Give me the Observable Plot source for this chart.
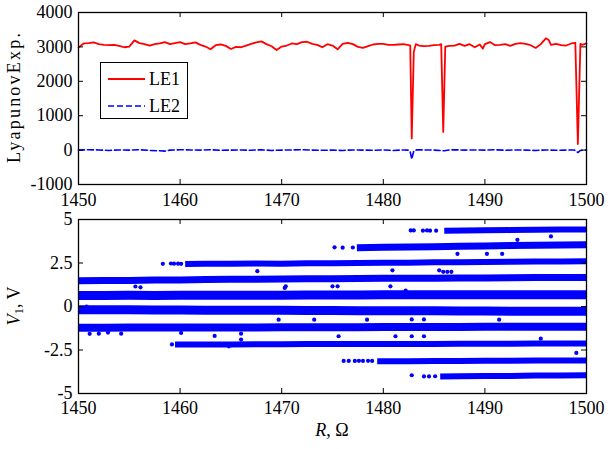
<!DOCTYPE html>
<html><head><meta charset="utf-8">
<script src="https://cdn.jsdelivr.net/npm/d3@7"></script>
<script src="https://cdn.jsdelivr.net/npm/@observablehq/plot@0.6"></script>
<style>
body{margin:0;background:#fff;}
svg{display:block}
#chart svg, #chart svg text { font-family: "Liberation Serif", "DejaVu Serif", serif !important; }
</style>
</head><body><div id="chart"></div>
<script>
// ---------- data ----------
const xTicks = [1450, 1460, 1470, 1480, 1490, 1500];
const yTicksTop = [-1000, 0, 1000, 2000, 3000, 4000];
const yTicksBottom = [-5, -2.5, 0, 2.5, 5];

// Lyapunov exponents [R, value]
const le1 = [
 [1450,2980],[1450.5,3100],[1451,3110],[1451.5,3130],[1452,3080],[1452.5,3060],[1453,3050],[1453.5,3060],
 [1454,3030],[1454.5,2990],[1455,3010],[1455.5,3190],[1456,3110],[1456.5,3080],[1457,3040],[1457.5,3080],
 [1458,3100],[1458.5,3140],[1459,3080],[1459.5,3110],[1460,3140],[1460.5,3080],[1461,3100],[1461.5,3130],
 [1462,3060],[1462.5,3010],[1463,2930],[1463.5,3050],[1464,3070],[1464.5,3030],[1465,2940],[1465.5,3000],
 [1466,2990],[1466.5,3040],[1467,3090],[1467.5,3130],[1468,3160],[1468.5,3080],[1469,3020],[1469.5,2910],
 [1470,3010],[1470.5,3040],[1471,3100],[1471.5,3080],[1472,3140],[1472.5,3150],[1473,3090],[1473.5,3060],
 [1474,2990],[1474.5,3080],[1475,3040],[1475.5,2930],[1476,3090],[1476.5,3120],[1477,3080],[1477.5,3000],
 [1478,2970],[1478.5,3020],[1479,3070],[1479.5,3090],[1480,3090],[1480.5,3060],[1481,3060],[1481.5,3070],
 [1482,3080],[1482.5,3050],[1482.65,3040],[1482.8,340],[1483,2850],[1483.2,3080],[1483.5,3040],[1484,3020],
 [1484.5,3030],[1485,3050],[1485.5,3060],[1485.7,3080],[1485.9,530],[1486.1,3010],[1486.5,3030],[1487,3040],
 [1487.5,3090],[1488,3030],[1488.5,3080],[1489,2990],[1489.5,3070],[1489.8,2950],[1490,3080],[1490.5,3140],
 [1491,3050],[1491.5,3060],[1492,3080],[1492.5,3030],[1493,3090],[1493.5,3110],[1494,3090],[1494.5,3050],
 [1495,2970],[1495.5,3080],[1496,3250],[1496.3,3190],[1496.5,3060],[1497,3090],[1497.5,3050],[1498,3040],
 [1498.5,3100],[1498.9,3120],[1499.15,175],[1499.4,3090],[1499.6,3060],[1500,3100]
];
const le2 = [
 [1450,0],[1451,10],[1452,5],[1453,-10],[1454,5],[1455,0],[1456,10],[1457,-10],[1458,-20],[1458.5,-30],
 [1459,0],[1460,10],[1461,5],[1462,0],[1463,10],[1464,-5],[1465,0],[1466,5],[1467,-5],[1468,10],[1469,-10],
 [1470,0],[1471,5],[1472,10],[1473,0],[1474,-5],[1475,0],[1476,-10],[1477,5],[1478,0],[1479,-5],[1480,5],
 [1481,-10],[1482,5],[1482.5,0],[1482.65,-50],[1482.8,-260],[1483,-30],[1483.3,10],[1484,5],[1485,0],
 [1486,-20],[1486.5,5],[1487,10],[1488,0],[1489,5],[1490,0],[1491,10],[1492,-5],[1493,5],[1494,0],
 [1495,-10],[1496,5],[1497,-5],[1498,0],[1498.8,5],[1499.15,-70],[1499.4,-10],[1500,5]
];

// Bifurcation bands: band centre [R, V1]
const bandA = [[1460.5,2.44],[1462.5,2.46],[1465,2.45],[1467.5,2.47],[1470,2.46],[1472.5,2.48],[1475,2.49],[1477.5,2.50],[1480,2.51],[1482.5,2.52],[1485,2.54],[1487.5,2.55],[1490,2.56],[1492.5,2.57],[1495,2.58],[1497.5,2.59],[1500,2.60]];
const bandB = [[1450,1.48],[1452.5,1.49],[1455,1.50],[1457.5,1.52],[1460,1.53],[1462.5,1.55],[1465,1.56],[1467.5,1.57],[1470,1.58],[1472.5,1.59],[1475,1.60],[1477.5,1.61],[1480,1.62],[1482.5,1.62],[1485,1.63],[1487.5,1.64],[1490,1.64],[1492.5,1.65],[1495,1.66],[1497.5,1.66],[1500,1.67]];
const bandC = [[1450,0.63],[1452.5,0.63],[1455,0.64],[1457.5,0.63],[1460,0.64],[1462.5,0.64],[1465,0.65],[1467.5,0.65],[1470,0.65],[1472.5,0.66],[1475,0.66],[1477.5,0.66],[1480,0.67],[1482.5,0.67],[1485,0.67],[1487.5,0.67],[1490,0.68],[1492.5,0.68],[1495,0.68],[1497.5,0.68],[1500,0.68]];
const bandD = [[1450,-0.18],[1452.5,-0.19],[1455,-0.19],[1457.5,-0.20],[1460,-0.20],[1462.5,-0.21],[1465,-0.21],[1467.5,-0.22],[1470,-0.22],[1472.5,-0.23],[1475,-0.23],[1477.5,-0.24],[1480,-0.24],[1482.5,-0.25],[1485,-0.25],[1487.5,-0.26],[1490,-0.26],[1492.5,-0.27],[1495,-0.27],[1497.5,-0.28],[1500,-0.28]];
const bandE = [[1450,-1.22],[1452.5,-1.22],[1455,-1.21],[1457.5,-1.21],[1460,-1.21],[1462.5,-1.20],[1465,-1.20],[1467.5,-1.20],[1470,-1.19],[1472.5,-1.19],[1475,-1.19],[1477.5,-1.19],[1480,-1.18],[1482.5,-1.18],[1485,-1.18],[1487.5,-1.18],[1490,-1.17],[1492.5,-1.17],[1495,-1.17],[1497.5,-1.17],[1500,-1.17]];
const bandF = [[1459.5,-2.18],[1462.5,-2.18],[1465,-2.18],[1467.5,-2.17],[1470,-2.17],[1472.5,-2.16],[1475,-2.16],[1477.5,-2.16],[1480,-2.15],[1482.5,-2.15],[1485,-2.15],[1487.5,-2.14],[1490,-2.14],[1492.5,-2.14],[1495,-2.13],[1497.5,-2.13],[1500,-2.13]];
const bandG = [[1477.4,3.38],[1480,3.40],[1482.5,3.42],[1485,3.44],[1487.5,3.46],[1490,3.48],[1492.5,3.50],[1495,3.52],[1497.5,3.54],[1500,3.55]];
const bandH = [[1486,4.36],[1488,4.37],[1490,4.38],[1492.5,4.39],[1495,4.41],[1497.5,4.42],[1500,4.43]];
const bandI = [[1479.4,-3.14],[1482.5,-3.14],[1485,-3.13],[1487.5,-3.13],[1490,-3.12],[1492.5,-3.12],[1495,-3.11],[1497.5,-3.11],[1500,-3.10]];
const bandJ = [[1485.6,-4.02],[1487.5,-4.01],[1490,-4.00],[1492.5,-3.99],[1495,-3.97],[1497.5,-3.96],[1500,-3.95]];

// isolated points [R, V1]
const scatterDots = [
 [1458.3,2.45],[1459.1,2.47],[1459.4,2.46],[1459.8,2.46],[1460.1,2.45],
 [1459.2,-2.18],
 [1475.2,3.40],[1476.0,3.38],[1477.0,3.39],
 [1482.7,4.37],[1483.0,4.37],[1483.9,4.36],[1484.3,4.37],[1484.6,4.36],[1485.2,4.36],
 [1476.1,-3.13],[1476.6,-3.13],[1477.2,-3.13],[1477.6,-3.12],[1478.0,-3.13],[1478.5,-3.12],[1478.9,-3.13],
 [1482.8,-3.95],[1484.0,-4.02],[1484.5,-4.02],[1485.1,-4.01],
 [1455.6,1.15],[1456.1,1.10],[1451.1,-1.57],[1452.0,-1.56],[1452.9,-1.50],[1454.2,-1.56],
 [1463.4,-1.69],[1466.0,-1.90],[1466.0,-1.56],[1469.7,-0.76],[1467.6,2.03],[1470.4,1.16],[1470.3,1.07],
 [1460.1,-1.52],[1450.8,0.0],[1464.8,-2.29],
 [1480.9,2.08],[1485.5,2.08],[1485.9,1.99],[1486.3,1.99],[1486.7,1.99],[1487.3,3.03],[1490.2,3.03],
 [1491.7,3.03],[1496.5,4.03],[1493.2,3.83],[1475.0,1.16],[1475.5,1.16],[1480.7,1.16],[1482.2,0.92],
 [1473.2,-0.76],[1478.4,-0.76],[1482.8,-0.74],[1484.0,-0.74],[1491.4,-0.76],[1475.6,-1.71],[1481.2,-1.71],
 [1482.8,-1.71],[1484.0,-1.71],[1495.5,-1.85],[1499.0,-2.67]
];

// ---------- layout ----------
const W = 608, ML = 78, MR = 22;
const FW = W - ML - MR;
const TICK = 5;
const font = "Liberation Serif, DejaVu Serif, serif";
const style = {fontFamily: font, fontSize: "18px", background: "white", color: "black", overflow: "visible"};
const BLUE = "#0000ff", RED = "#ff0000";

function frameTicks(xt, yt, FH) {
  return [
    Plot.ruleX(xt, {x: d => d, insetTop: FH - TICK, stroke: "black", strokeWidth: 1}),
    Plot.ruleX(xt, {x: d => d, insetBottom: FH - TICK, stroke: "black", strokeWidth: 1}),
    Plot.ruleY(yt, {y: d => d, insetRight: FW - TICK, stroke: "black", strokeWidth: 1}),
    Plot.ruleY(yt, {y: d => d, insetLeft: FW - TICK, stroke: "black", strokeWidth: 1}),
    Plot.frame({stroke: "black", strokeWidth: 1.3})
  ];
}

// top panel
const HT = 212, MTt = 12, MBt = 28;
const topPlot = Plot.plot({
  width: W, height: HT, marginTop: MTt, marginBottom: MBt, marginLeft: ML, marginRight: MR,
  style,
  x: {domain: [1450, 1500], label: null},
  y: {domain: [-1000, 4000], label: null},
  marks: [
    Plot.line(le2, {x: d => d[0], y: d => d[1], stroke: BLUE, strokeWidth: 1.6, strokeDasharray: "6,3"}),
    Plot.line(le1, {x: d => d[0], y: d => d[1], stroke: RED, strokeWidth: 1.8}),
    Plot.axisX({ticks: xTicks, tickSize: 0, tickPadding: 9, tickFormat: d => String(d), fontSize: 18}),
    Plot.axisY({ticks: yTicksTop, tickSize: 0, tickPadding: 6, tickFormat: d => String(d), fontSize: 18}),
    ...frameTicks(xTicks, yTicksTop, HT - MTt - MBt)
  ]
});

// bottom panel
const HB = 237, MTb = 7, MBb = 56;
const bands = [
  [bandA, 6], [bandB, 7], [bandC, 9], [bandD, 9], [bandE, 8],
  [bandF, 6], [bandG, 7], [bandH, 6], [bandI, 6], [bandJ, 6]
];
const bottomPlot = Plot.plot({
  width: W, height: HB, marginTop: MTb, marginBottom: MBb, marginLeft: ML, marginRight: MR,
  style,
  x: {domain: [1450, 1500], label: null},
  y: {domain: [-5, 5], label: null},
  marks: [
    ...bands.map(([b, w]) => Plot.line(b, {x: d => d[0], y: d => d[1], stroke: BLUE, strokeWidth: w, strokeLinecap: "butt"})),
    Plot.dot(scatterDots, {x: d => d[0], y: d => d[1], r: 2.1, fill: BLUE, stroke: "none"}),
    Plot.axisX({ticks: xTicks, tickSize: 0, tickPadding: 8, tickFormat: d => String(d), fontSize: 18}),
    Plot.axisY({ticks: yTicksBottom, tickSize: 0, tickPadding: 6, tickFormat: d => String(d), fontSize: 18}),
    ...frameTicks(xTicks, yTicksBottom, HB - MTb - MBb)
  ]
});

const chart = document.getElementById("chart");
chart.appendChild(topPlot);
chart.appendChild(bottomPlot);

// axis titles and legend
const st = d3.select(topPlot);
st.append("text")
  .attr("transform", `translate(16,${(MTt + HT - MBt) / 2}) rotate(-90)`)
  .attr("text-anchor", "middle").attr("dominant-baseline", "middle")
  .attr("font-size", 18)
  .attr("textLength", 130).attr("lengthAdjust", "spacing")
  .text("LyapunovExp.");

const lg = st.append("g").attr("text-anchor", "start");
lg.append("rect").attr("x", 100.5).attr("y", 62.5).attr("width", 87).attr("height", 56)
  .attr("fill", "white").attr("stroke", "black").attr("stroke-width", 1);
lg.append("line").attr("x1", 108).attr("x2", 145).attr("y1", 79).attr("y2", 79)
  .attr("stroke", RED).attr("stroke-width", 1.8);
lg.append("line").attr("x1", 108).attr("x2", 145).attr("y1", 106).attr("y2", 106)
  .attr("stroke", BLUE).attr("stroke-width", 1.6).attr("stroke-dasharray", "6,3");
lg.append("text").attr("x", 149).attr("y", 79).attr("dy", "0.34em").attr("text-anchor", "start")
  .attr("font-size", 18).text("LE1");
lg.append("text").attr("x", 149).attr("y", 106).attr("dy", "0.34em").attr("text-anchor", "start")
  .attr("font-size", 18).text("LE2");

const sb = d3.select(bottomPlot);
const yl = sb.append("text")
  .attr("transform", `translate(16,${(MTb + HB - MBb) / 2}) rotate(-90)`)
  .attr("text-anchor", "middle").attr("dominant-baseline", "middle")
  .attr("font-size", 18);
yl.append("tspan").attr("font-style", "italic").text("V");
yl.append("tspan").attr("font-size", 13).attr("dy", 4).text("1");
yl.append("tspan").attr("dy", -4).text(", V");

const xl = sb.append("text")
  .attr("x", ML + FW / 2).attr("y", 220)
  .attr("text-anchor", "middle").attr("dominant-baseline", "middle")
  .attr("font-size", 18);
xl.append("tspan").attr("font-style", "italic").text("R");
xl.append("tspan").text(", Ω");
</script></body></html>
